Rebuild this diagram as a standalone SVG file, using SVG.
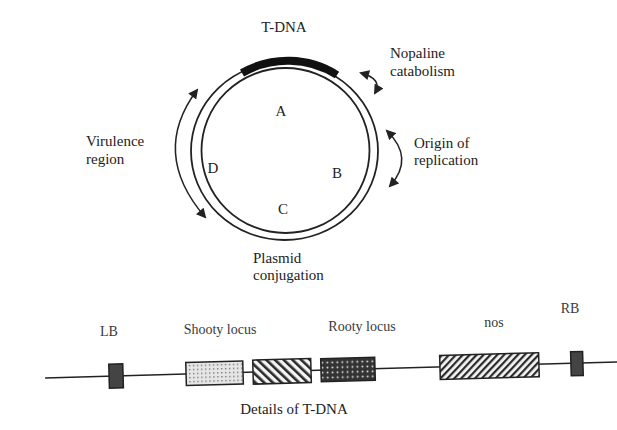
<svg xmlns="http://www.w3.org/2000/svg" width="617" height="430" viewBox="0 0 617 430">
<style>
text{font-family:"Liberation Serif","Times New Roman",serif;fill:#222;font-size:15px}
.lbl2{font-size:14px;fill:#3a3a3a}
.ring{fill:none;stroke:#222;stroke-width:1.8}
.arw{fill:none;stroke:#222;stroke-width:1.5;marker-start:url(#ah);marker-end:url(#ah)}
.box{stroke:#222;stroke-width:1.5}
</style>
<defs>
<marker id="ah" viewBox="0 0 10 10" refX="8" refY="5" markerWidth="11" markerHeight="10" markerUnits="userSpaceOnUse" orient="auto-start-reverse">
<path d="M0,0 L10,5 L0,10 Z" fill="#222"/>
</marker>
<pattern id="stip" width="4" height="4" patternUnits="userSpaceOnUse">
<rect width="4" height="4" fill="#e6e6e6"/>
<rect x="1" y="1" width="1.4" height="1.4" fill="#777"/>
</pattern>
<pattern id="hb" width="6" height="6" patternUnits="userSpaceOnUse" patternTransform="rotate(-45)">
<rect width="6" height="6" fill="#f4f4f4"/>
<rect width="2.6" height="6" fill="#2a2a2a"/>
</pattern>
<pattern id="hf" width="5" height="5" patternUnits="userSpaceOnUse" patternTransform="rotate(45)">
<rect width="5" height="5" fill="#f4f4f4"/>
<rect width="2.2" height="5" fill="#2a2a2a"/>
</pattern>
<pattern id="dd" width="5" height="5" patternUnits="userSpaceOnUse">
<rect width="5" height="5" fill="#333"/>
<circle cx="2.5" cy="2.5" r="1" fill="#ddd"/>
</pattern>
</defs>

<g id="plasmid">
<ellipse class="ring" cx="284.5" cy="151" rx="93.5" ry="89"/>
<ellipse class="ring" cx="285.5" cy="150.5" rx="84" ry="82.5"/>
</g>
<g id="tdna-region">
<path d="M242,73 A89,85.5 0 0 1 337,75" fill="none" stroke="#111" stroke-width="8"/>
<text x="284" y="32" text-anchor="middle">T-DNA</text>
</g>
<g id="letters">
<text x="281" y="116" text-anchor="middle">A</text>
<text x="337" y="178" text-anchor="middle">B</text>
<text x="283" y="214" text-anchor="middle">C</text>
<text x="213" y="173" text-anchor="middle">D</text>
</g>
<g id="nopaline"><text x="390" y="58">Nopaline</text><text x="390" y="76">catabolism</text></g>
<g id="origin"><text x="414" y="148">Origin of</text><text x="414" y="165">replication</text></g>
<g id="virulence"><text x="86" y="146">Virulence</text><text x="86" y="164">region</text></g>
<g id="conjugation"><text x="253" y="263">Plasmid</text><text x="253" y="280">conjugation</text></g>

<g id="connectors">
<path class="arw" d="M361,73 Q383,79 375,93"/>
<path class="arw" d="M387,131 Q415,158 390,186"/>
<path class="arw" d="M197,90 Q150,153 205,217"/>
</g>

<g id="tdna-map" transform="rotate(-1.6 330 370)">
<line x1="45" y1="370" x2="625" y2="370" stroke="#222" stroke-width="1.5"/>
<rect id="lb" class="box" x="109" y="358" width="14" height="24" fill="#444"/>
<rect id="shooty1" class="box" x="186" y="358.5" width="57" height="23" fill="url(#stip)"/>
<rect id="shooty2" class="box" x="253" y="358" width="58" height="24" fill="url(#hb)"/>
<rect id="rooty" class="box" x="321" y="358.5" width="54" height="23" fill="url(#dd)"/>
<rect id="nos" class="box" x="440" y="358.5" width="99" height="24" fill="url(#hf)"/>
<rect id="rb" class="box" x="571" y="358.5" width="12" height="24" fill="#444"/>
</g>
<g id="map-labels">
<text class="lbl2" x="109" y="336" text-anchor="middle">LB</text>
<text class="lbl2" x="220" y="334" text-anchor="middle">Shooty locus</text>
<text class="lbl2" x="362" y="331" text-anchor="middle">Rooty locus</text>
<text class="lbl2" x="494" y="327" text-anchor="middle">nos</text>
<text class="lbl2" x="570" y="313" text-anchor="middle">RB</text>
<text x="294" y="414" text-anchor="middle">Details of T-DNA</text>
</g>
</svg>
